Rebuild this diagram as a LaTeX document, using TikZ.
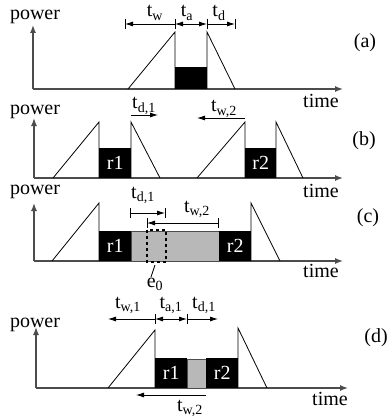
\documentclass[tikz,border=0pt]{standalone}
\usepackage{fontspec}
\setmainfont{Liberation Serif}
\usetikzlibrary{arrows.meta}
\newcommand{\lsub}[2]{#1\textsubscript{#2}}

\begin{document}
\begin{tikzpicture}[x=1pt, y=-1pt,
  font=\fontsize{20}{22}\selectfont,
  axis/.style={draw=black!70, line width=1.4pt, -{Latex[length=8pt,width=6pt]}},
  pulse/.style={draw, line width=0.8pt},
  req/.style={fill=black, text=white, inner sep=0pt, anchor=south west, minimum height=30pt},
  idle/.style={draw=black!70, fill=black!28, line width=0.5pt, anchor=south west, minimum height=30pt},
  dim/.style={line width=0.8pt, -{Latex[length=8pt,width=5pt]}},
  dimboth/.style={line width=0.8pt, {Latex[length=8pt,width=5pt]}-{Latex[length=8pt,width=5pt]}},
  tick/.style={line width=0.5pt},
  lbl/.style={inner sep=0pt, anchor=base},
  tag/.style={inner sep=0pt}
]
\useasboundingbox (0,0) rectangle (391,417);

% (a)
\coordinate (oa) at (33,89);
\draw[axis] (oa) -- (33,25);
\draw[axis] (oa) -- (343,89);
\node[lbl] (pwa) at (35,20) {power};
\node[lbl] (tma) at (321,107) {time};
\node[tag] (ta) at (365,43) {(a)};
\draw[pulse] (128,89) -- (175,32) -- (175,89);
\node[req, minimum width=32pt, minimum height=22pt] (ra) at (175,89) {};
\draw[pulse] (207,89) -- (207,32) -- (235,89);
\foreach \x in {125,175,207,235} \draw[tick] (\x,19) -- (\x,29);
\coordinate (wa) at (125,24);
\coordinate (aa) at (175,24);
\coordinate (da) at (207,24);
\coordinate (ea) at (235,24);
\draw[dim] (aa) -- (wa);
\draw[dimboth] (aa) -- (da);
\draw[dim] (da) -- (ea);
\node[lbl] (twa) at (155,17) {\lsub{t}{w}};
\node[lbl] (taa) at (187,17) {\lsub{t}{a}};
\node[lbl] (tda) at (219,17) {\lsub{t}{d}};

% (b)
\coordinate (ob) at (34,178);
\draw[axis] (ob) -- (34,118);
\draw[axis] (ob) -- (343,178);
\node[lbl] (pwb) at (35,114) {power};
\node[lbl] (tmb) at (321,197) {time};
\node[tag] (tb) at (364,141) {(b)};
\draw[pulse] (53,178) -- (99,122) -- (99,178);
\node[req, minimum width=32pt] (r1b) at (99,178) {r1};
\draw[pulse] (131,178) -- (131,122) -- (160,178);
\draw[pulse] (197,178) -- (245,122) -- (245,178);
\node[req, minimum width=31pt] (r2b) at (245,178) {r2};
\draw[pulse] (276,178) -- (276,122) -- (303,178);
\coordinate (d1b) at (131,115);
\coordinate (d2b) at (158,115);
\coordinate (w1b) at (245,118);
\coordinate (w2b) at (197,118);
\draw[dim] (d1b) -- (d2b);
\draw[dim] (w1b) -- (w2b);
\node[lbl] (tdb) at (144,109) {\lsub{t}{d,1}};
\node[lbl] (twb) at (224,112) {\lsub{t}{w,2}};

% (c)
\coordinate (oc) at (34,261);
\draw[axis] (oc) -- (34,203);
\draw[axis] (oc) -- (343,261);
\node[lbl] (pwc) at (35,194) {power};
\node[lbl] (tmc) at (321,277) {time};
\node[tag] (tc) at (368,218) {(c)};
\draw[pulse] (52,261) -- (99,203) -- (99,261);
\node[req, minimum width=32pt] (r1c) at (99,261) {r1};
\node[idle, minimum width=88pt] (gc) at (131,261) {};
\node[req, minimum width=32pt] (r2c) at (219,261) {r2};
\draw[pulse] (251,261) -- (251,203) -- (280,261);
\draw[line width=1.6pt, dash pattern=on 3pt off 3pt] (147,230) rectangle (166,262);
\coordinate (e0a) at (155,265);
\coordinate (e0b) at (151,277);
\draw[line width=0.8pt] (e0a) -- (e0b);
\node[lbl] (e0) at (155,287) {\lsub{e}{0}};
\foreach \x in {130,165} \draw[tick] (\x,208) -- (\x,218);
\foreach \x in {147,218} \draw[tick] (\x,218) -- (\x,228);
\coordinate (d1c) at (130,213);
\coordinate (d2c) at (165,213);
\coordinate (w1c) at (218,223);
\coordinate (w2c) at (147,223);
\draw[dim] (d1c) -- (d2c);
\draw[dim] (w1c) -- (w2c);
\node[lbl] (tdc) at (143,198) {\lsub{t}{d,1}};
\node[lbl] (twc) at (197,212) {\lsub{t}{w,2}};

% (d)
\coordinate (od) at (36,388);
\draw[axis] (od) -- (36,327);
\draw[axis] (od) -- (348,388);
\node[lbl] (pwd) at (35,327) {power};
\node[lbl] (tmd) at (330,405) {time};
\node[tag] (td) at (376,338) {(d)};
\draw[pulse] (108,388) -- (155,330) -- (155,388);
\node[req, minimum width=32pt] (r1d) at (155,388) {r1};
\node[idle, minimum width=19pt, minimum height=29pt] (gd) at (187,388) {};
\node[req, minimum width=32pt] (r2d) at (206,388) {r2};
\draw[pulse] (238,388) -- (238,328) -- (267,388);
\foreach \x in {155,187} \draw[tick] (\x,314) -- (\x,324);
\coordinate (wd) at (108,319);
\coordinate (ad) at (155,319);
\coordinate (dd) at (187,319);
\coordinate (ed) at (218,319);
\draw[dim] (ad) -- (wd);
\draw[dimboth] (ad) -- (dd);
\draw[dim] (dd) -- (ed);
\node[lbl] (twd) at (128,308) {\lsub{t}{w,1}};
\node[lbl] (tad) at (171,308) {\lsub{t}{a,1}};
\node[lbl] (tdd) at (204,308) {\lsub{t}{d,1}};
\coordinate (v1d) at (206,395);
\coordinate (v2d) at (136,395);
\draw[dim] (v1d) -- (v2d);
\node[lbl] (tvd) at (190,411) {\lsub{t}{w,2}};
\end{tikzpicture}
\end{document}
